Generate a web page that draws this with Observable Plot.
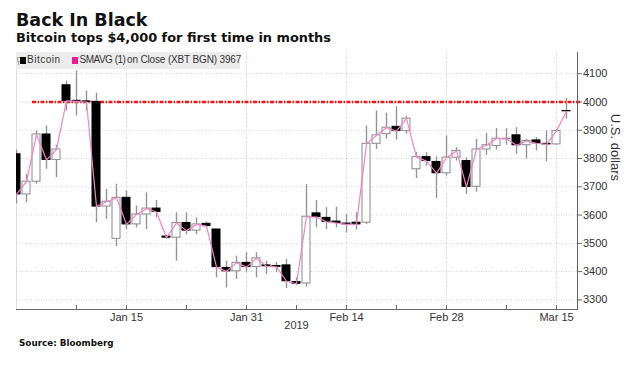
<!DOCTYPE html>
<html><head><meta charset="utf-8">
<script src="https://cdn.jsdelivr.net/npm/d3@7"></script>
<script src="https://cdn.jsdelivr.net/npm/@observablehq/plot@0.6"></script>
<style>
body{margin:0;background:#fff;}
#wrap{position:relative;width:640px;height:375px;overflow:hidden;}
.hd{position:absolute;left:16px;font-family:"DejaVu Sans",sans-serif;font-weight:bold;color:#111;white-space:nowrap;}
#title{top:11.9px;font-size:17.5px;line-height:17.5px;}
#subtitle{top:31.8px;font-size:12.9px;line-height:12.9px;}
#source{top:339.2px;left:19px;font-size:8.8px;line-height:8.8px;}
#chart{position:absolute;left:0;top:46px;}
#legend{position:absolute;left:16px;top:52px;width:224px;height:17px;background:#ececec;font-family:"Liberation Sans",Arial,sans-serif;font-size:10px;line-height:10px;color:#333;}
#legend span{position:absolute;white-space:nowrap;}
</style></head><body>
<div id="wrap">
<div id="title" class="hd">Back In Black</div>
<div id="subtitle" class="hd">Bitcoin tops $4,000 for first time in months</div>
<div id="chart"></div>
<div id="legend">
  <span style="left:1px;top:5px;width:2px;height:3px;border:1px solid #aaa;"></span>
  <span style="left:2px;top:10px;width:1px;height:3px;background:#aaa;"></span>
  <span style="left:4px;top:5px;width:6px;height:7px;background:#000;"></span>
  <span id="lg1" style="left:11px;top:3px;letter-spacing:0.5px;"></span>
  <span style="left:56px;top:5px;width:6px;height:7px;background:#ee1c8e;"></span>
  <span id="lg2" style="left:63.5px;top:3px;letter-spacing:-0.5px;"></span>
  <span id="lg3" style="left:111px;top:3px;letter-spacing:-0.15px;"></span>
</div>
<div id="source" class="hd">Source: Bloomberg</div>
</div>
<script>
// Series labels
const seriesName = "Bitcoin";
const avgName = "SMAVG (1)";
const avgNote = "on Close (XBT BGN) 3967";
const yLabel = "U.S. dollars";
const yearLabel = "2019";
const threshold = 4000;

// Trading days (weekdays) from Dec 31, 2018 to Mar 19, 2019
const dates = d3.utcDay.range(new Date("2018-12-31"), new Date("2019-03-20"))
  .filter(d => d.getUTCDay() % 6 !== 0)
  .map(d3.utcFormat("%Y-%m-%d"));

// Daily OHLC
const open  = [3815,3673,3718,3885,3795,4059,4004,4002,4000,3630,3516,3661,3567,3602,3623,3524,3520,3572,3545,3569,3549,3413,3401,3431,3416,3422,3420,3422,3363,3358,3606,3590,3577,3570,3573,3573,3852,3886,3912,3897,3762,3805,3788,3748,3803,3791,3700,3832,3844,3868,3882,3847,3864,3852,3850,3968];
const high  = [3830,3744,3897,3915,3847,4074,4110,4039,4031,3691,3709,3685,3632,3679,3652,3528,3608,3608,3590,3575,3549,3437,3455,3467,3467,3437,3432,3443,3378,3708,3652,3626,3628,3602,3608,3915,3968,3960,3983,3948,3821,3821,3806,3880,3838,3803,3868,3889,3906,3906,3909,3868,3874,3897,3903,4012];
const low   = [3640,3644,3709,3762,3732,3968,3950,3968,3573,3585,3488,3549,3555,3549,3590,3514,3437,3530,3531,3555,3378,3342,3372,3396,3378,3390,3396,3340,3350,3345,3555,3549,3555,3537,3547,3567,3832,3868,3865,3886,3729,3773,3658,3738,3791,3673,3681,3811,3830,3847,3815,3799,3827,3788,3847,3939];
const close = [3673,3718,3885,3795,3832,4004,4002,4000,3630,3647,3661,3567,3602,3623,3611,3520,3572,3545,3567,3561,3416,3401,3431,3416,3447,3419,3417,3366,3357,3594,3593,3576,3572,3567,3567,3852,3882,3909,3897,3941,3805,3791,3748,3803,3827,3700,3832,3847,3870,3870,3847,3862,3854,3850,3897,3967];

// Axis ticks
const yTicks = [3300,3400,3500,3600,3700,3800,3900,4000,4100];
const majorDates = ["2019-01-15","2019-01-31","2019-02-14","2019-02-28","2019-03-15"];
const majorLabels = ["Jan 15","Jan 31","Feb 14","Feb 28","Mar 15"];
const minorDates = ["2019-01-08","2019-01-23","2019-02-07","2019-02-21","2019-03-08"];
const yearDate = "2019-02-07";
const lineStart = "2019-01-02";

const candles = close.map((c, i) => ({date: dates[i], open: open[i], high: high[i], low: low[i], close: c}));
const up = candles.filter(d => d.close >= d.open);
const down = candles.filter(d => d.close < d.open);
const labelOf = new Map(majorDates.map((d, i) => [d, majorLabels[i]]));
const lineEnd = dates[dates.length - 1];

document.getElementById("lg1").textContent = seriesName;
document.getElementById("lg2").textContent = avgName;
document.getElementById("lg3").textContent = avgNote;

const plot = Plot.plot({
  width: 640, height: 290,
  marginTop: 6, marginBottom: 27, marginLeft: 16, marginRight: 63,
  style: {fontFamily: "'Liberation Sans', Arial, sans-serif", fontSize: "11px", color: "#333", background: "transparent"},
  x: {type: "band", domain: dates, range: [10, 582], padding: 0.2, label: null},
  y: {domain: [3266, 4175], label: null},
  marks: [
    Plot.gridY(yTicks, {stroke: "#d2d2d2", strokeOpacity: 1, strokeDasharray: "1,1.5"}),
    Plot.gridX(majorDates, {stroke: "#d2d2d2", strokeOpacity: 1, strokeDasharray: "1,1.5"}),
    Plot.frame({anchor: "left", stroke: "#dcdcdc"}),
    Plot.ruleY([threshold], {y: d => d, x1: () => lineStart, x2: () => lineEnd, stroke: "#ff1010", strokeWidth: 2.5, strokeDasharray: "4,1.5,1.5,1.5"}),
    Plot.ruleX(candles, {x: "date", y1: "low", y2: "high", stroke: "#949494", strokeWidth: 1.4, clip: true}),
    Plot.barY(up, {x: "date", y1: "open", y2: "close", fill: "white", stroke: "#8a8a8a", strokeWidth: 1, clip: true}),
    Plot.barY(down, {x: "date", y1: "open", y2: "close", fill: "black", stroke: "black", strokeWidth: 1, clip: true}),
    Plot.lineY(candles, {x: "date", y: "close", stroke: "#f283cb", strokeWidth: 1.2, clip: true}),
    Plot.frame({anchor: "bottom", stroke: "#666"}),
    Plot.frame({anchor: "right", stroke: "#666"}),
    Plot.tickX([...majorDates, ...minorDates], {x: d => d, stroke: "#666", insetTop: 253}),
    Plot.axisY(yTicks, {anchor: "right", tickSize: 4, tickPadding: 1.5, tickFormat: d => `${d}`, label: null, stroke: "#666"}),
    Plot.axisX(majorDates, {anchor: "bottom", tickSize: 0, tickPadding: 4, tickFormat: d => labelOf.get(d), label: null}),
    Plot.text([yLabel], {frameAnchor: "right", dx: 38, rotate: 90, fontSize: 13, fill: "#333"}),
    Plot.text([yearDate], {x: d => d, text: () => yearLabel, frameAnchor: "bottom", dy: 19, fill: "#333"})
  ]
});
document.getElementById("chart").appendChild(plot);
</script>
</body></html>
